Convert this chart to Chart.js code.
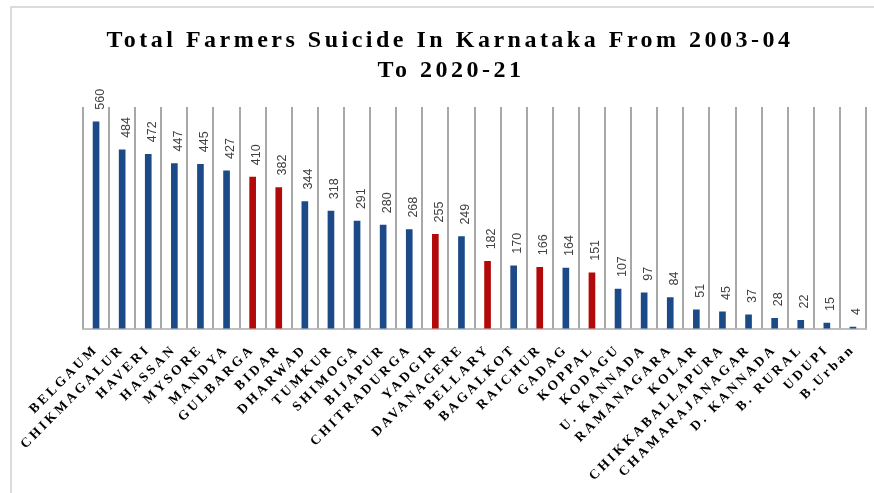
<!DOCTYPE html>
<html>
<head>
<meta charset="utf-8">
<script src="https://cdn.jsdelivr.net/npm/chart.js@4"></script>
<style>
  html, body { margin: 0; padding: 0; background: #fff; }
  #wrap { width: 874px; height: 493px; }
</style>
</head>
<body>
<div id="wrap"><canvas id="suicideChart" width="874" height="493"></canvas></div>
<script>
const districts = ['BELGAUM', 'CHIKMAGALUR', 'HAVERI', 'HASSAN', 'MYSORE', 'MANDYA', 'GULBARGA', 'BIDAR',
  'DHARWAD', 'TUMKUR', 'SHIMOGA', 'BIJAPUR', 'CHITRADURGA', 'YADGIR', 'DAVANAGERE', 'BELLARY',
  'BAGALKOT', 'RAICHUR', 'GADAG', 'KOPPAL', 'KODAGU', 'U. KANNADA', 'RAMANAGARA', 'KOLAR',
  'CHIKKABALLAPURA', 'CHAMARAJANAGAR', 'D. KANNADA', 'B. RURAL', 'UDUPI', 'B.Urban'];
const suicides = [560, 484, 472, 447, 445, 427, 410, 382, 344, 318, 291, 280, 268, 255, 249, 182,
  170, 166, 164, 151, 107, 97, 84, 51, 45, 37, 28, 22, 15, 4];
// districts shown in red in the original
const highlighted = ['GULBARGA', 'BIDAR', 'YADGIR', 'BELLARY', 'RAICHUR', 'KOPPAL'];
const titleLines = ['Total Farmers Suicide In Karnataka From 2003-04', 'To 2020-21'];

const BLUE = '#1c4a88';
const RED = '#b20a0a';
const GRID = '#a8a8a8';

// letter spacing for serif text (ticks + title)
const spacingPlugin = {
  id: 'spacing',
  beforeLayout(chart) { chart.ctx.letterSpacing = '3px'; },
  beforeDraw(chart) { chart.ctx.letterSpacing = '3px'; }
};

const valueLabelPlugin = {
  id: 'valueLabels',
  afterDatasetsDraw(chart) {
    const ctx = chart.ctx;
    const meta = chart.getDatasetMeta(0);
    ctx.save();
    ctx.letterSpacing = '0px';
    ctx.fillStyle = '#404040';
    ctx.font = '12.5px "Liberation Sans", Arial, sans-serif';
    ctx.textAlign = 'left';
    ctx.textBaseline = 'middle';
    meta.data.forEach((bar, i) => {
      ctx.save();
      ctx.translate(bar.x + 4, bar.y - 12);
      ctx.rotate(-Math.PI / 2);
      ctx.fillText(String(suicides[i]), 0, 0);
      ctx.restore();
    });
    ctx.restore();
  }
};

// vertical separators between districts
const separatorPlugin = {
  id: 'separators',
  afterDraw(chart) {
    const ctx = chart.ctx;
    const xs = chart.scales.x;
    const area = chart.chartArea;
    const n = districts.length;
    const half = (xs.getPixelForValue(1) - xs.getPixelForValue(0)) / 2;
    ctx.save();
    ctx.strokeStyle = GRID;
    ctx.lineWidth = 2;
    for (let i = 0; i <= n; i++) {
      const x = Math.round(i < n ? xs.getPixelForValue(i) - half : xs.getPixelForValue(n - 1) + half);
      ctx.beginPath();
      ctx.moveTo(x, area.top);
      ctx.lineTo(x, area.bottom);
      ctx.stroke();
    }
    ctx.restore();
  }
};

const framePlugin = {
  id: 'frame',
  afterDraw(chart) {
    const ctx = chart.ctx;
    ctx.save();
    // chart border (partly cut off in the original)
    ctx.strokeStyle = '#d0d0d0';
    ctx.lineWidth = 1.5;
    ctx.beginPath();
    ctx.moveTo(11, 493);
    ctx.lineTo(11, 7);
    ctx.lineTo(874, 7);
    ctx.stroke();

    // title
    ctx.letterSpacing = '3.5px';
    ctx.fillStyle = '#000';
    ctx.font = 'bold 24px "Liberation Serif", "Times New Roman", serif';
    ctx.textAlign = 'center';
    ctx.textBaseline = 'alphabetic';
    ctx.fillText(titleLines[0], 450, 47);
    ctx.fillText(titleLines[1], 451, 77);
    ctx.restore();
  }
};

new Chart(document.getElementById('suicideChart'), {
  type: 'bar',
  data: {
    labels: districts,
    datasets: [{
      data: suicides,
      backgroundColor: districts.map(d => highlighted.includes(d) ? RED : BLUE),
      barThickness: 6
    }]
  },
  options: {
    responsive: false,
    devicePixelRatio: 1,
    animation: false,
    layout: { padding: { left: 83, right: 8, top: 107, bottom: 4 } },
    plugins: {
      legend: { display: false },
      title: { display: false },
      tooltip: { enabled: false }
    },
    scales: {
      x: {
        grid: { display: false },
        border: { color: '#c0c0c0', width: 2 },
        ticks: {
          autoSkip: false,
          maxRotation: 45,
          minRotation: 45,
          padding: 5,
          color: '#000',
          font: { family: '"Liberation Serif", "Times New Roman", serif', size: 13.5, weight: 'bold' }
        }
      },
      y: {
        display: false,
        min: 0,
        max: 600
      }
    }
  },
  plugins: [spacingPlugin, valueLabelPlugin, separatorPlugin, framePlugin]
});
</script>
</body>
</html>
